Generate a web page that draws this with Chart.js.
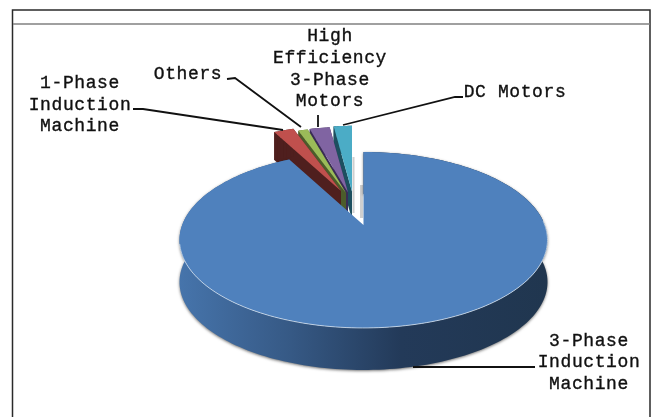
<!DOCTYPE html>
<html>
<head>
<meta charset="utf-8">
<style>
  html, body { margin: 0; padding: 0; background: #fff; }
  canvas { display: block; }
</style>
<script src="https://cdn.jsdelivr.net/npm/chart.js@4/dist/chart.umd.min.js"></script>
</head>
<body>
<canvas id="motors" width="652" height="417"></canvas>
<script>
// Share of installed motors by type
const categories = [
  ['3-Phase', 'Induction', 'Machine'],
  ['1-Phase', 'Induction', 'Machine'],
  ['Others'],
  ['High', 'Efficiency', '3-Phase', 'Motors'],
  ['DC Motors']
];
const shares = [92.2, 2.3, 1.1, 2.3, 2.1];

const topColors = ['#4f81bd', '#c0504d', '#9bbb59', '#8064a2', '#4bacc6'];
const wallColors = ['#1f3550', '#4f1f1e', '#4c5c2b', '#3a2c55', '#1d4f5f'];

// Perspective of the tilted disc: horizontal and vertical reach, foreshortening
const DISC = { a: 181.3, b: 85.4, k: 0.1705 };
// Where each slice's tip lands and how far it is scaled after being pulled out
const PLACEMENT = [
  { x: 363.5, y: 225, scale: 1, depth: 42 },
  { x: 341, y: 191, scale: 0.9, depth: 28 },
  { x: 346, y: 193, scale: 0.9, depth: 28 },
  { x: 348, y: 192.5, scale: 0.9, depth: 28 },
  { x: 352, y: 191.5, scale: 0.9, depth: 28 }
];
// Callout text blocks and their leader lines
const CALLOUTS = [
  { cx: 589, ys: [341, 362, 384], leader: [[535, 367], [413, 367]] },
  { cx: 80, ys: [83, 105, 126], leader: [[133, 109], [143, 109], [283, 130]] },
  { cx: 188, ys: [74], leader: [[227, 79], [235, 78], [301, 127]] },
  { cx: 330, ys: [36, 58, 80, 101], leader: [[318, 115], [318, 127]] },
  { cx: 515, ys: [92], leader: [[463, 97], [455, 97], [343, 125]] }
];

function project(place, theta) {
  const u = Math.sin(theta), v = -Math.cos(theta);
  const w = 1 - DISC.k * v;
  return [place.x + place.scale * DISC.a * u / w, place.y + place.scale * DISC.b * v / w];
}

// Outline of a slice taken from the angles the pie controller computed
function outline(arc, place) {
  const start = arc.startAngle + Math.PI / 2, end = arc.endAngle + Math.PI / 2;
  const steps = Math.max(4, Math.ceil((end - start) * 40));
  const rim = [];
  for (let i = 0; i <= steps; i++) rim.push(project(place, start + (end - start) * i / steps));
  return rim;
}

function tracePoly(ctx, pts) {
  ctx.beginPath();
  pts.forEach((p, i) => i ? ctx.lineTo(p[0], p[1]) : ctx.moveTo(p[0], p[1]));
  ctx.closePath();
}

function drawSmallSlice(ctx, arc, i) {
  const place = PLACEMENT[i];
  const pts = [[place.x, place.y], ...outline(arc, place)];
  ctx.fillStyle = wallColors[i];
  pts.forEach((p, j) => {
    const q = pts[(j + 1) % pts.length];
    tracePoly(ctx, [p, q, [q[0], q[1] + place.depth], [p[0], p[1] + place.depth]]);
    ctx.fill();
  });
  tracePoly(ctx, pts);
  ctx.fillStyle = topColors[i];
  ctx.fill();
}

function drawMainSlice(ctx, arc) {
  const place = PLACEMENT[0];
  const rim = outline(arc, place);
  const wall = [...rim, ...rim.slice().reverse().map(p => [p[0], p[1] + place.depth])];
  const side = ctx.createLinearGradient(180, 0, 548, 0);
  side.addColorStop(0, '#4674ab');
  side.addColorStop(0.3, '#365985');
  side.addColorStop(0.6, '#233a59');
  side.addColorStop(1, '#20364f');
  ctx.save();
  ctx.shadowColor = 'rgba(0,0,0,0.55)';
  ctx.shadowBlur = 3;
  ctx.shadowOffsetY = 1;
  tracePoly(ctx, wall);
  ctx.fillStyle = side;
  ctx.fill();
  ctx.restore();

  tracePoly(ctx, [[place.x, place.y], ...rim]);
  ctx.fillStyle = topColors[0];
  ctx.fill();

  // Pale highlight along the front edge of the disc
  ctx.beginPath();
  rim.forEach((p, j) => {
    const theta = arc.startAngle + Math.PI / 2 + (arc.endAngle - arc.startAngle) * j / (rim.length - 1);
    if (theta > 1.5 && theta < 4.5) ctx.lineTo(p[0], p[1]);
  });
  ctx.strokeStyle = 'rgba(225,235,245,0.7)';
  ctx.lineWidth = 1;
  ctx.stroke();
}

const extrudedPie = {
  id: 'extrudedPie',
  beforeDatasetDraw(chart, args) {
    const ctx = chart.ctx;
    const arcs = chart.getDatasetMeta(args.index).data;

    // Faint cast shadows in the gap beside the pulled-out slices
    ctx.fillStyle = '#cfcfcf';
    ctx.fillRect(352.5, 157, 2, 56);
    ctx.fillRect(360, 185, 3, 33);

    // Painted back to front: the teal slice sits furthest from the viewer
    for (let i = arcs.length - 1; i >= 1; i--) drawSmallSlice(ctx, arcs[i], i);
    drawMainSlice(ctx, arcs[0]);
    return false;
  }
};

const frameAndCallouts = {
  id: 'frameAndCallouts',
  afterDraw(chart) {
    const ctx = chart.ctx;
    ctx.save();
    // Frame around the figure
    ctx.strokeStyle = '#2a2a2a';
    ctx.lineWidth = 1.5;
    ctx.beginPath();
    ctx.moveTo(12.5, 417); ctx.lineTo(12.5, 10); ctx.lineTo(650, 10); ctx.lineTo(650, 417);
    ctx.stroke();
    ctx.strokeStyle = '#808080';
    ctx.beginPath();
    ctx.moveTo(13, 24); ctx.lineTo(650, 24);
    ctx.stroke();

    // Leader lines
    ctx.strokeStyle = '#111';
    ctx.lineWidth = 1.8;
    CALLOUTS.forEach(c => {
      ctx.beginPath();
      c.leader.forEach((p, i) => i ? ctx.lineTo(p[0], p[1]) : ctx.moveTo(p[0], p[1]));
      ctx.stroke();
    });

    // Labels
    ctx.font = '18px "Liberation Mono"';
    ctx.letterSpacing = '0.6px';
    ctx.textAlign = 'center';
    ctx.textBaseline = 'middle';
    ctx.fillStyle = '#111';
    ctx.strokeStyle = '#111';
    ctx.lineWidth = 0.35;
    CALLOUTS.forEach((c, i) => {
      categories[i].forEach((line, j) => {
        ctx.fillText(line, c.cx, c.ys[j]);
        ctx.strokeText(line, c.cx, c.ys[j]);
      });
    });
    ctx.restore();
  }
};

new Chart(document.getElementById('motors'), {
  type: 'pie',
  data: {
    labels: categories.map(lines => lines.join(' ')),
    datasets: [{ data: shares, backgroundColor: topColors, borderWidth: 0 }]
  },
  options: {
    responsive: false,
    animation: false,
    plugins: { legend: { display: false }, tooltip: { enabled: false } }
  },
  plugins: [extrudedPie, frameAndCallouts]
});
</script>
</body>
</html>
